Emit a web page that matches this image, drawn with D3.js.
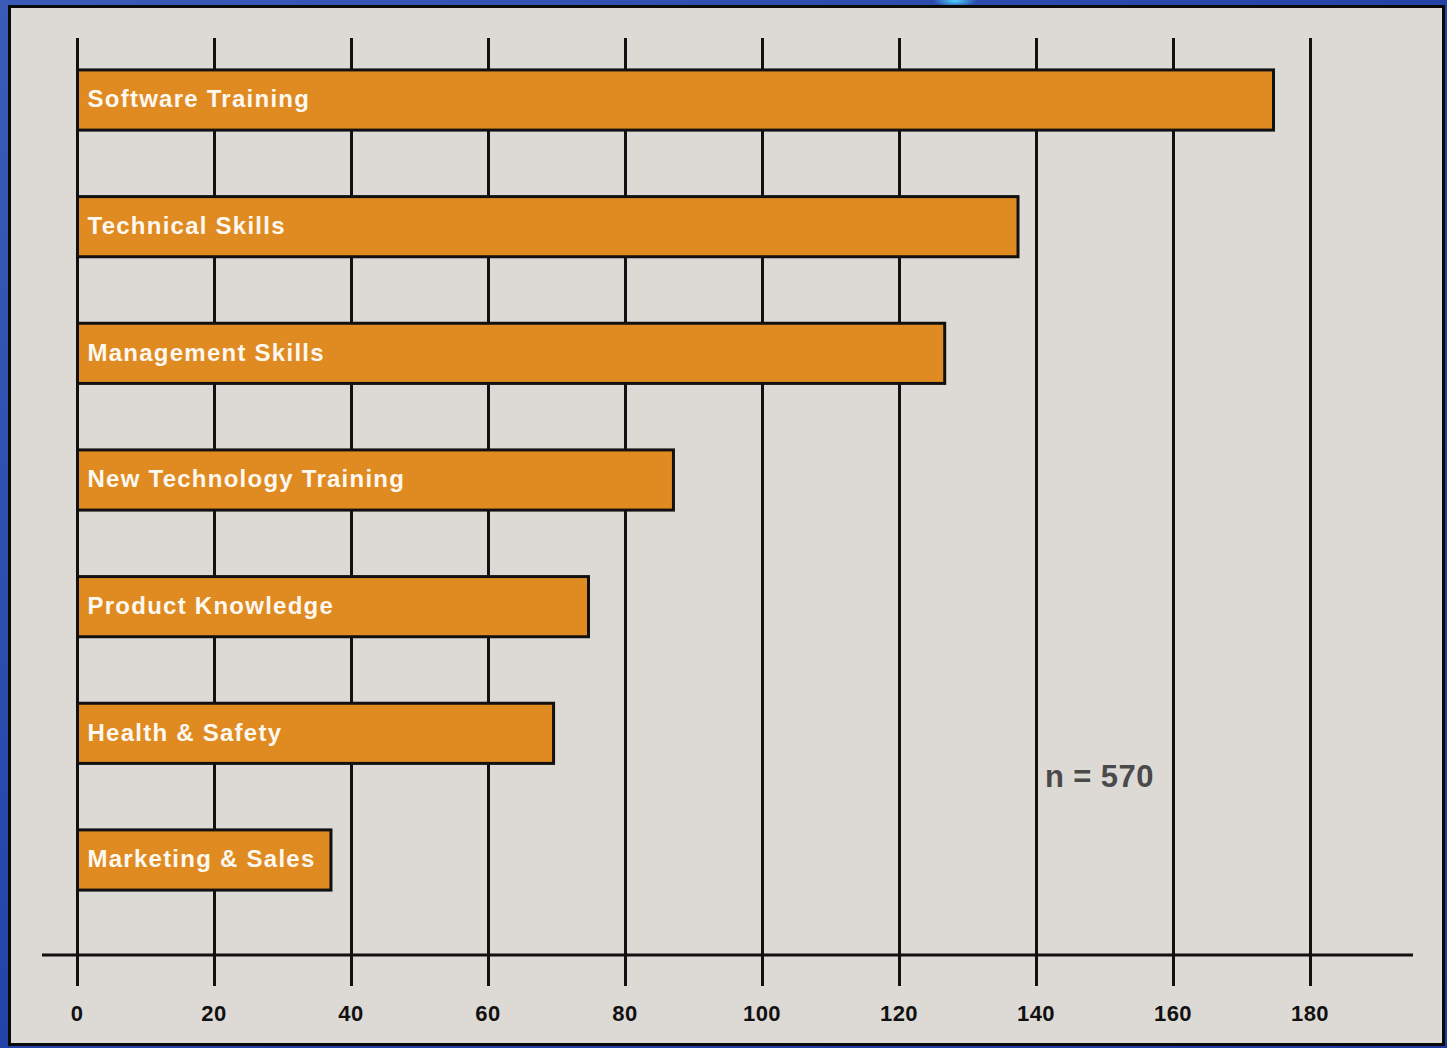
<!DOCTYPE html>
<html>
<head>
<meta charset="utf-8">
<script src="https://cdn.jsdelivr.net/npm/d3@7"></script>
<style>
  html, body { margin: 0; padding: 0; background: #2d4fae; }
  svg { display: block; }
</style>
</head>
<body>
<svg id="chart" width="1447" height="1048"></svg>
<script>
// Training topics and number of mentions
const categories = [
  "Software Training",
  "Technical Skills",
  "Management Skills",
  "New Technology Training",
  "Product Knowledge",
  "Health & Safety",
  "Marketing & Sales"
];
const values = [174.6, 137.3, 126.6, 87, 74.6, 69.5, 37];
const tickValues = [0, 20, 40, 60, 80, 100, 120, 140, 160, 180];
const sampleNote = "n = 570";

const svg = d3.select("#chart");
const W = 1447, H = 1048;

// Blue backdrop
const defs = svg.append("defs");
const bg = defs.append("linearGradient").attr("id", "bg")
  .attr("x1", 0).attr("y1", 0).attr("x2", 1).attr("y2", 1);
bg.append("stop").attr("offset", 0).attr("stop-color", "#3a5cb8");
bg.append("stop").attr("offset", 0.5).attr("stop-color", "#2443a8");
bg.append("stop").attr("offset", 1).attr("stop-color", "#1e3aa0");
svg.append("rect").attr("width", W).attr("height", H).attr("fill", "url(#bg)");

const glow = defs.append("radialGradient").attr("id", "glow");
glow.append("stop").attr("offset", 0).attr("stop-color", "#4fd0ff");
glow.append("stop").attr("offset", 1).attr("stop-color", "#4fd0ff").attr("stop-opacity", 0);
svg.append("ellipse").attr("cx", 955).attr("cy", 1).attr("rx", 22).attr("ry", 6)
  .attr("fill", "url(#glow)");

// Light panel
svg.append("rect")
  .attr("x", 9.5).attr("y", 6.5).attr("width", 1434).attr("height", 1038)
  .attr("fill", "#dddad5").attr("stroke", "#0a0a0a").attr("stroke-width", 3);

// Scales
const x = d3.scaleLinear().domain([0, 180]).range([77.5, 1310.5]);
const y = d3.scaleBand().domain(categories).range([37, 923]).paddingInner(0.525).paddingOuter(0.26);

const axisY = 955;

// Vertical grid lines
svg.append("g")
  .selectAll("line")
  .data(tickValues)
  .join("line")
  .attr("x1", d => x(d)).attr("x2", d => x(d))
  .attr("y1", 38).attr("y2", 986)
  .attr("stroke", "#111").attr("stroke-width", 3);

// Horizontal axis line
svg.append("line")
  .attr("x1", 42).attr("x2", 1413)
  .attr("y1", axisY).attr("y2", axisY)
  .attr("stroke", "#111").attr("stroke-width", 3);

// Tick labels via d3 axis
const xAxis = d3.axisBottom(x).tickValues(tickValues).tickSize(0).tickPadding(0);
const gx = svg.append("g").attr("transform", `translate(0,${axisY})`).call(xAxis);
gx.select(".domain").remove();
gx.selectAll("text")
  .attr("x", -1)
  .attr("y", 58)
  .attr("dy", "0.35em")
  .attr("font-family", "Arial, 'Liberation Sans', sans-serif")
  .attr("font-size", 22)
  .attr("font-weight", "bold")
  .attr("letter-spacing", 0.5)
  .attr("fill", "#111");

// Bars
const bars = svg.append("g");
bars.selectAll("rect")
  .data(categories)
  .join("rect")
  .attr("x", x(0))
  .attr("y", d => y(d))
  .attr("width", (d, i) => x(values[i]) - x(0))
  .attr("height", y.bandwidth())
  .attr("fill", "#e08a22")
  .attr("stroke", "#111")
  .attr("stroke-width", 3);

// Bar labels
bars.selectAll("text")
  .data(categories)
  .join("text")
  .attr("x", x(0) + 10)
  .attr("y", d => y(d) + y.bandwidth() / 2)
  .attr("dy", "0.3em")
  .attr("font-family", "Arial, 'Liberation Sans', sans-serif")
  .attr("font-size", 24)
  .attr("font-weight", "bold")
  .attr("letter-spacing", 1.25)
  .attr("fill", "#fdf8f0")
  .text(d => d);

// Sample size note
svg.append("text")
  .attr("x", 1045).attr("y", 787)
  .attr("font-family", "Arial, 'Liberation Sans', sans-serif")
  .attr("font-size", 31)
  .attr("font-weight", "bold")
  .attr("letter-spacing", 0.4)
  .attr("fill", "#4a4a4a")
  .text(sampleNote);
</script>
</body>
</html>
